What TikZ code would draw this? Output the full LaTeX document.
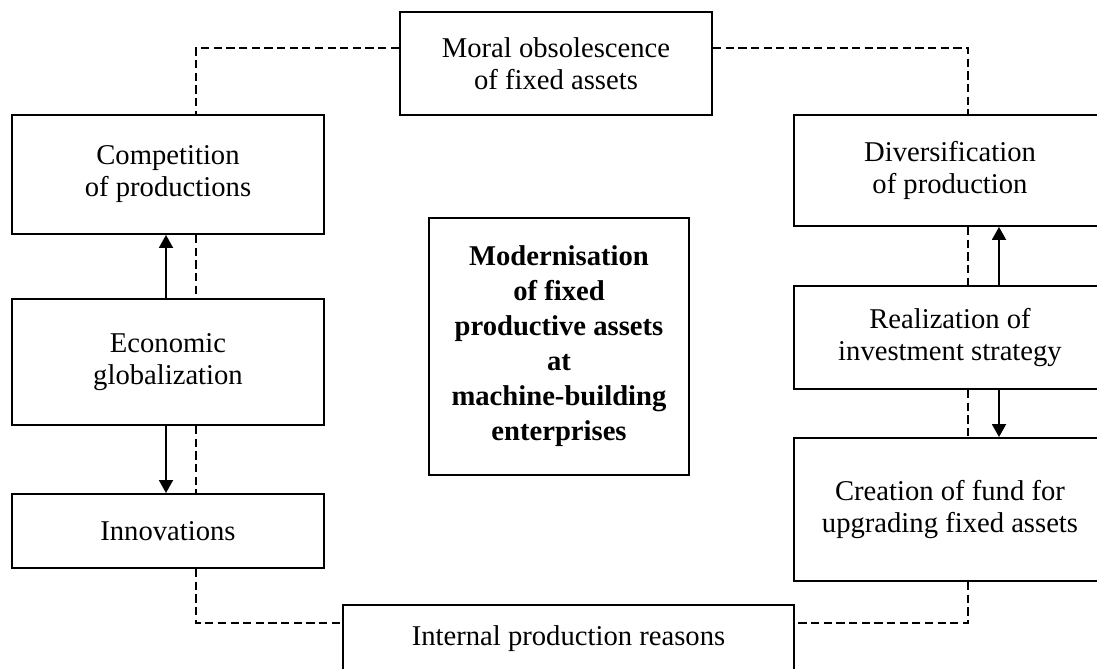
\documentclass[tikz,border=0pt]{standalone}
\usepackage{fontspec}
\setmainfont{Liberation Serif}
\usetikzlibrary{arrows.meta}
\usetikzlibrary{positioning}
\tikzset{block/.style = {draw, line width = 1.1pt, align = center, inner sep = 2pt,
                         font = \fontsize{16.3}{18.2}\selectfont,
                         minimum width = 6.24cm},
         link/.style = {line width = 1.1pt, dash pattern = on 4.7pt off 2.5pt},
         flow/.style = {line width = 1.1pt,
                        -{Triangle[length = 2.6mm, width = 2.8mm]}}}

\begin{document}
\begin{tikzpicture}
      \useasboundingbox (0, 0) rectangle (21.94, 13.36);
      \clip (0, 0) rectangle (21.94, 13.36);
      \node [block, minimum height = 2.06cm] (moral) at (11.12, 12.09) {Moral obsolescence\\of fixed assets};
      \node [block, minimum height = 2.38cm] (comp) at (3.36, 9.87) {Competition\\of productions};
      \node [block, minimum height = 2.52cm] (econ) at (3.36, 6.12) {Economic\\globalization};
      \node [block, minimum height = 1.48cm] (innov) at (3.36, 2.74) {Innovations};
      \node [block, minimum width = 5.2cm, minimum height = 5.14cm,
             font = \fontsize{16.3}{19.9}\selectfont\bfseries] (core) at (11.18, 6.43)
            {Modernisation\\of fixed\\productive assets\\at\\machine-building\\enterprises};
      \node [block, minimum height = 2.22cm] (divers) at (19.0, 9.95) {Diversification\\of production};
      \node [block, minimum height = 2.06cm] (realiz) at (19.0, 6.61) {Realization of\\investment strategy};
      \node [block, minimum height = 2.86cm] (fund) at (19.0, 3.17) {Creation of fund for\\upgrading fixed assets};
      \node [block, minimum width = 9.02cm, minimum height = 1.34cm] (internal) at (11.37, 0.59) {Internal production reasons};
      \coordinate (lt) at (3.92, 12.4);
      \coordinate (lb) at (3.92, 0.9);
      \coordinate (rt) at (19.36, 12.4);
      \coordinate (rb) at (19.36, 0.9);
      \draw [link] (moral.west |- lt) -- (lt) -- (comp.north -| lt);
      \draw [link] (comp.south -| lt) -- (econ.north -| lt);
      \draw [link] (econ.south -| lt) -- (innov.north -| lt);
      \draw [link] (innov.south -| lt) -- (lb) -- (internal.west |- lb);
      \draw [link] (moral.east |- rt) -- (rt) -- (divers.north -| rt);
      \draw [link] (divers.south -| rt) -- (realiz.north -| rt);
      \draw [link] (realiz.south -| rt) -- (fund.north -| rt);
      \draw [link] (fund.south -| rt) -- (rb) -- (internal.east |- rb);
      \draw [flow] ([xshift = -0.04cm]econ.north) -- ([xshift = -0.04cm]comp.south);
      \draw [flow] ([xshift = -0.04cm]econ.south) -- ([xshift = -0.04cm]innov.north);
      \draw [flow] ([xshift = 0.98cm]realiz.north) -- ([xshift = 0.98cm]divers.south);
      \draw [flow] ([xshift = 0.98cm]realiz.south) -- ([xshift = 0.98cm]fund.north);
    \end{tikzpicture}
\end{document}
